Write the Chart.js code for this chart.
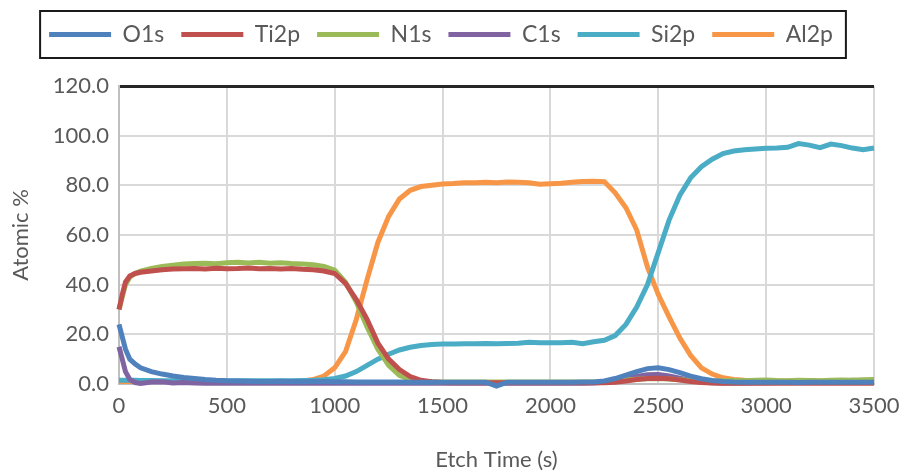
<!DOCTYPE html>
<html>
<head>
<meta charset="utf-8">
<script src="https://cdn.jsdelivr.net/npm/chart.js@4.4.1/dist/chart.umd.min.js"></script>
<style>
  html, body { margin: 0; padding: 0; background: #fff; }
  #wrap { width: 900px; height: 473px; }
</style>
</head>
<body>
<div id="wrap"><canvas id="xpsChart" width="900" height="473"></canvas></div>
<script>
// Etch time (s)
const times = [0, 15, 30, 50, 75,
  100, 150, 200, 250, 300, 350, 400, 450, 500,
  550, 600, 650, 700, 750, 800, 850, 900, 950, 1000,
  1050, 1100, 1150, 1200, 1250, 1300, 1350, 1400, 1450, 1500,
  1550, 1600, 1650, 1700, 1750, 1800, 1850, 1900, 1950, 2000,
  2050, 2100, 2150, 2200, 2250, 2300, 2350, 2400, 2450, 2500,
  2550, 2600, 2650, 2700, 2750, 2800, 2850, 2900, 2950, 3000,
  3050, 3100, 3150, 3200, 3250, 3300, 3350, 3400, 3450, 3500];

// Atomic % per element
const o1s = [24, 19, 14, 10, 8,
  6.5, 5, 4, 3.2, 2.6, 2.2, 1.8, 1.5, 1.3,
  1.2, 1.1, 1.0, 1.0, 1.1, 1.0, 0.9, 1.0, 1.0, 0.9,
  0.9, 0.8, 0.8, 0.8, 0.8, 0.8, 0.7, 0.7, 0.7, 0.7,
  0.7, 0.7, 0.7, 0.7, -0.8, 0.7, 0.7, 0.7, 0.7, 0.7,
  0.7, 0.7, 0.8, 0.8, 1.2, 2.2, 3.6, 5.0, 6.2, 6.5,
  5.8, 4.6, 3.2, 2.1, 1.4, 1.0, 0.8, 0.7, 0.7, 0.7,
  0.7, 0.7, 0.6, 0.7, 0.7, 0.7, 0.7, 0.7, 0.7, 0.7];
const ti2p = [30, 36, 41, 43.5, 44.5,
  45, 45.5, 46, 46.3, 46.4, 46.5, 46.3, 46.6, 46.4,
  46.5, 46.7, 46.4, 46.5, 46.3, 46.5, 46.2, 46.0, 45.5, 44.5,
  40.5, 34, 26, 16.5, 10, 5.8, 3, 1.5, 0.9, 0.6,
  0.5, 0.5, 0.5, 0.5, 0.5, 0.5, 0.5, 0.5, 0.5, 0.5,
  0.5, 0.5, 0.5, 0.5, 0.5, 0.7, 1.2, 1.8, 2.2, 2.3,
  2.1, 1.6, 1.0, 0.6, 0.4, 0.3, 0.3, 0.3, 0.3, 0.3,
  0.3, 0.3, 0.3, 0.3, 0.3, 0.3, 0.3, 0.3, 0.3, 0.3];
const n1s = [30, 35, 40, 43, 44.5,
  45.5, 46.5, 47.3, 47.8, 48.3, 48.5, 48.6, 48.4, 48.8,
  49.0, 48.7, 49.0, 48.6, 48.8, 48.5, 48.3, 48.0, 47.3, 45.8,
  41, 33, 23, 14, 7.5, 3.5, 1.8, 1.1, 0.9, 0.8,
  0.8, 0.8, 0.8, 0.8, 0.8, 0.8, 0.8, 0.8, 0.8, 0.8,
  0.8, 0.8, 0.8, 0.8, 0.9, 1.2, 1.6, 1.9, 2.1, 2.2,
  2.0, 1.7, 1.4, 1.2, 1.2, 1.3, 1.4, 1.3, 1.5, 1.6,
  1.4, 1.3, 1.5, 1.4, 1.3, 1.5, 1.6, 1.5, 1.7, 1.8];
const c1s = [15, 10, 5, 1.8, 0.6,
  0.2, 0.8, 0.9, 0.4, 0.6, 0.4, 0.3, 0.3, 0.3,
  0.3, 0.3, 0.3, 0.3, 0.3, 0.3, 0.3, 0.3, 0.3, 0.3,
  0.3, 0.3, 0.3, 0.3, 0.3, 0.3, 0.3, 0.3, 0.3, 0.3,
  0.3, 0.3, 0.3, 0.3, 0.3, 0.3, 0.3, 0.3, 0.3, 0.3,
  0.3, 0.3, 0.3, 0.4, 0.7, 1.3, 2.2, 3.0, 3.7, 3.8,
  3.2, 2.3, 1.4, 0.8, 0.5, 0.4, 0.4, 0.4, 0.5, 0.5,
  0.6, 0.7, 0.9, 1.3, 0.8, 0.9, 1.0, 1.5, 1.3, 1.2];
const si2p = [1.5, 1.5, 1.5, 1.5, 1.5,
  1.4, 1.4, 1.3, 1.3, 1.3, 1.3, 1.3, 1.3, 1.3,
  1.3, 1.3, 1.3, 1.3, 1.3, 1.3, 1.4, 1.5, 1.7, 2.2,
  3.2, 5, 7.5, 10, 12, 13.7, 14.8, 15.5, 15.9, 16.1,
  16.1, 16.2, 16.2, 16.3, 16.2, 16.3, 16.4, 16.8, 16.6, 16.6,
  16.6, 16.8, 16.2, 17.0, 17.6, 19.5, 24, 31, 40, 53,
  66, 76, 83, 87.5, 90.5, 92.8, 93.8, 94.3, 94.6, 94.9,
  95.0, 95.3, 96.8, 96.2, 95.2, 96.6, 96.0, 95.0, 94.3, 95.0];
const al2p = [1, 1, 1, 1, 1,
  1, 1, 1, 1, 1, 1, 1, 1, 1,
  1, 1, 1, 1, 1, 1, 1.2, 1.8, 3.2, 6.5,
  13, 26, 42, 57, 67.5, 74.5, 78, 79.5, 80, 80.5,
  80.7, 81, 81, 81.2, 81, 81.3, 81.2, 81, 80.4, 80.6,
  80.8, 81.2, 81.5, 81.6, 81.5, 77, 71, 62, 47, 36,
  27, 18.5, 11.5, 6.5, 4, 2.5, 1.8, 1.5, 1.3, 1.2,
  1.2, 1.2, 1.2, 1.2, 1.2, 1.2, 1.2, 1.2, 1.2, 1.2];

const seriesNames = ['O1s', 'Ti2p', 'N1s', 'C1s', 'Si2p', 'Al2p'];
const seriesValues = [o1s, ti2p, n1s, c1s, si2p, al2p];
const seriesColors = ['#4F81BD', '#C0504D', '#9BBB59', '#8064A2', '#4BACC6', '#F79646'];

const yTicks = [0, 20, 40, 60, 80, 100, 120];
const xTicks = [0, 500, 1000, 1500, 2000, 2500, 3000, 3500];

const textColor = '#595959';
const fontFamily = 'Lato, "Open Sans", sans-serif';
const legendShift = -9;

// le cadre noir autour de la légende + hauteur fixe de la légende
const legendFrame = {
  id: 'legendFrame',
  beforeLayout(chart) {
    const lg = chart.legend;
    if (lg && !lg._fixed) {
      const fit = lg.fit.bind(lg);
      lg.fit = function () { fit(); this.height = 80; };
      const draw = lg.draw.bind(lg);
      lg.draw = function () {
        this.ctx.save();
        this.ctx.translate(legendShift, 0);
        draw();
        this.ctx.restore();
      };
      lg._fixed = true;
    }
  },
  afterDraw(chart) {
    const boxes = chart.legend.legendHitBoxes;
    if (!boxes.length) return;
    const first = boxes[0];
    const last = boxes[boxes.length - 1];
    const cy = first.top + first.height / 2;
    const ctx = chart.ctx;
    ctx.save();
    ctx.strokeStyle = '#1a1a1a';
    ctx.lineWidth = 2;
    ctx.strokeRect(first.left - 9 + legendShift, cy - 23.5, last.left + last.width - first.left + 22, 47);
    ctx.restore();
  }
};

new Chart(document.getElementById('xpsChart'), {
  type: 'line',
  data: {
    datasets: seriesNames.map((name, i) => ({
      label: name,
      data: times.map((t, k) => ({ x: t, y: seriesValues[i][k] })),
      borderColor: seriesColors[i],
      backgroundColor: seriesColors[i],
      borderWidth: 5,
      pointRadius: 0,
      tension: 0,
      clip: false,
    })),
  },
  options: {
    responsive: false,
    animation: false,
    devicePixelRatio: 1,
    layout: { padding: { top: 6, right: 0, bottom: 0, left: 0 } },
    plugins: {
      legend: {
        position: 'top',
        labels: {
          color: textColor,
          font: { family: fontFamily, size: 23 },
          boxWidth: 62,
          boxHeight: 5,
          padding: 17,
          generateLabels(chart) {
            return Chart.defaults.plugins.legend.labels.generateLabels(chart).map((item) => {
              item.fillStyle = item.strokeStyle;
              item.lineWidth = 0;
              return item;
            });
          },
        },
      },
      tooltip: { enabled: false },
    },
    scales: {
      x: {
        type: 'linear',
        min: 0,
        max: 3500,
        afterBuildTicks(scale) { scale.ticks = xTicks.map((v) => ({ value: v })); },
        afterFit(scale) {
          scale.height = 89;
          scale.paddingLeft = 0;
          scale.paddingRight = 26;
        },
        ticks: {
          color: textColor,
          font: { family: fontFamily, size: 22 },
          padding: 9,
          maxRotation: 0,
          callback: (v) => String(v),
        },
        grid: { color: '#d9d9d9', lineWidth: 2, drawTicks: false },
        border: { color: '#bfbfbf', width: 2 },
        title: {
          display: true,
          text: 'Etch Time (s)',
          color: textColor,
          font: { family: fontFamily, size: 22 },
          padding: { top: 0, bottom: 0 },
        },
      },
      y: {
        min: 0,
        max: 120,
        afterBuildTicks(scale) { scale.ticks = yTicks.map((v) => ({ value: v })); },
        afterFit(scale) { scale.width = 119; },
        ticks: {
          color: textColor,
          font: { family: fontFamily, size: 22 },
          padding: 10,
          callback: (v) => v.toFixed(1),
        },
        grid: {
          color: (c) => (c.tick && c.tick.value === 120 ? '#262626' : '#d9d9d9'),
          lineWidth: (c) => (c.tick && c.tick.value === 120 ? 3 : 2),
          drawTicks: false,
        },
        border: { color: '#bfbfbf', width: 2 },
        title: {
          display: true,
          text: 'Atomic %',
          color: textColor,
          font: { family: fontFamily, size: 22 },
          padding: { top: 8, bottom: 0 },
        },
      },
    },
  },
  plugins: [legendFrame],
});
</script>
</body>
</html>
